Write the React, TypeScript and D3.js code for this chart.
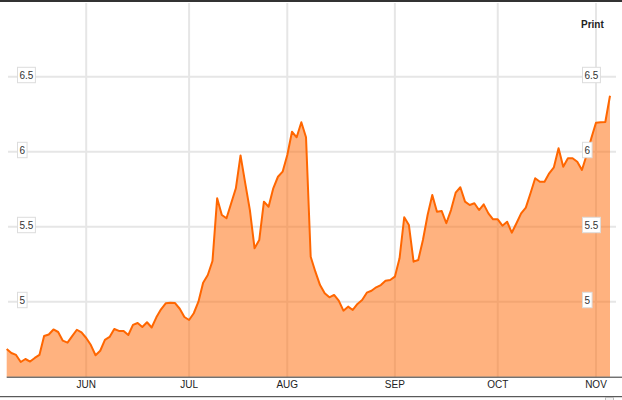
import React from 'react';
import * as d3 from 'd3';

const values: number[] = [
  4.685, 4.658, 4.645, 4.598, 4.618, 4.601, 4.625, 4.645, 4.771, 4.781,
  4.815, 4.798, 4.740, 4.727, 4.771, 4.813, 4.795, 4.758, 4.711, 4.643,
  4.673, 4.745, 4.765, 4.818, 4.805, 4.805, 4.778, 4.845, 4.858, 4.831,
  4.863, 4.828, 4.896, 4.949, 4.989, 4.993, 4.991, 4.953, 4.898, 4.878,
  4.923, 5.000, 5.127, 5.178, 5.271, 5.689, 5.578, 5.556, 5.656, 5.756,
  5.975, 5.791, 5.611, 5.356, 5.411, 5.667, 5.633, 5.756, 5.833, 5.867,
  5.978, 6.133, 6.096, 6.196, 6.096, 5.300, 5.200, 5.111, 5.056, 5.029,
  5.045, 5.007, 4.940, 4.967, 4.945, 4.985, 5.011, 5.060, 5.073, 5.096,
  5.111, 5.140, 5.145, 5.167, 5.289, 5.563, 5.511, 5.267, 5.278, 5.411,
  5.578, 5.711, 5.600, 5.605, 5.523, 5.611, 5.727, 5.763, 5.667, 5.645,
  5.656, 5.611, 5.649, 5.589, 5.549, 5.549, 5.507, 5.533, 5.460, 5.523,
  5.589, 5.627, 5.723, 5.823, 5.800, 5.800, 5.856, 5.896, 6.023, 5.900,
  5.956, 5.956, 5.933, 5.878, 5.978, 6.089, 6.193, 6.196, 6.198, 6.373,
];

const monthLabels: string[] = ['JUN', 'JUL', 'AUG', 'SEP', 'OCT', 'NOV'];
const monthStartIndex: number[] = [17, 39, 60, 83, 105, 126];
const yTicks: number[] = [5, 5.5, 6, 6.5];
const yTickLabels: string[] = ['5', '5.5', '6', '6.5'];

const W = 622;
const H = 400;
const FONT = '"Liberation Sans", Arial, sans-serif';

function textWidth(s: string): number {
  let w = 0;
  for (const c of s) w += c === '.' ? 2.78 : 5.56;
  return w;
}

export default function App() {
  const x = d3.scaleLinear().domain([0, values.length - 1]).range([6.7, 610]);
  const y = d3.scaleLinear().domain([4.5, 7]).range([376.7, 1.7]);

  const area = d3
    .area<number>()
    .x((_, i) => x(i))
    .y0(y(4.5))
    .y1((d) => y(d));
  const line = d3
    .line<number>()
    .x((_, i) => x(i))
    .y((d) => y(d));

  return (
    <svg
      width={W}
      height={H}
      style={{ position: 'absolute', left: 0, top: 0, background: '#fff' }}
      fontFamily={FONT}
    >
      <rect x={0} y={0} width={W} height={H} fill="#fff" />
      {/* top border */}
      <line x1={0} x2={W} y1={1} y2={1} stroke="#333" strokeWidth={2} />
      {/* horizontal grid */}
      {yTicks.map((t) => (
        <line key={'h' + t} x1={8} x2={616} y1={y(t)} y2={y(t)} stroke="#e6e6e6" strokeWidth={2} />
      ))}
      {/* vertical grid */}
      {monthStartIndex.map((mi) => (
        <line key={'v' + mi} x1={x(mi)} x2={x(mi)} y1={3} y2={376.7} stroke="#e6e6e6" strokeWidth={2} />
      ))}
      {/* area & line */}
      <path d={area(values) || ''} fill="#ff6600" fillOpacity={0.5} />
      <path d={line(values) || ''} fill="none" stroke="#ff6600" strokeWidth={2} strokeLinejoin="round" />
      {/* bottom axis line */}
      <line x1={6.7} x2={W} y1={377.2} y2={377.2} stroke="#333" strokeWidth={1} />
      <line x1={0} x2={W} y1={396.7} y2={396.7} stroke="#333" strokeWidth={1} />
      <rect x={605.5} y={397.5} width={8} height={4} fill="#f4f4f4" stroke="#bbb" strokeWidth={1} />
      {/* month labels */}
      {monthStartIndex.map((mi, k) => (
        <text key={'m' + k} x={x(mi)} y={387.5} textAnchor="middle" fontSize={10} fill="#222">
          {monthLabels[k]}
        </text>
      ))}
      {/* y labels left & right */}
      {yTicks.map((t, k) => {
        const lbl = yTickLabels[k];
        const bw = textWidth(lbl) + 4;
        const cy = y(t) - 1.7;
        return (
          <g key={'y' + k}>
            <rect x={17.5} y={cy - 7.7} width={bw} height={15.4} fill="#fff" stroke="#dcdcdc" strokeWidth={1} />
            <text x={19.5} y={cy + 3.6} fontSize={10} fill="#333">
              {lbl}
            </text>
            <rect x={582.5} y={cy - 7.7} width={bw} height={15.4} fill="#fff" stroke="#dcdcdc" strokeWidth={1} />
            <text x={584.5} y={cy + 3.6} fontSize={10} fill="#333">
              {lbl}
            </text>
          </g>
        );
      })}
      <text x={581} y={28} fontSize={10} fontWeight="bold" fill="#222">
        Print
      </text>
    </svg>
  );
}
